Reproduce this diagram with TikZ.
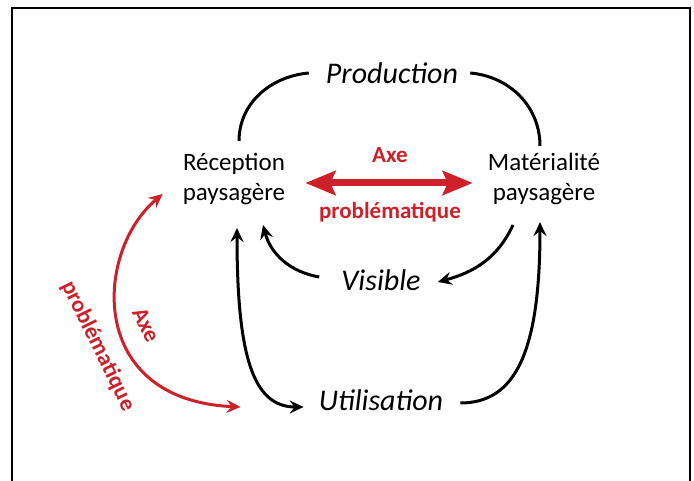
\documentclass[tikz,border=0pt]{standalone}
\usepackage{fontspec}
\setmainfont{Carlito}
\usetikzlibrary{positioning, calc, arrows.meta}
\definecolor{axered}{RGB}{206,32,41}

\begin{document}
\begin{tikzpicture}[x=1pt, y=1pt,
    pole/.style={inner sep=0pt, align=center, font=\fontsize{25}{30}\selectfont},
    act/.style={inner sep=0pt, font=\fontsize{30}{36}\selectfont\itshape},
    axe/.style={inner sep=0pt, text=axered, font=\fontsize{23}{28}\selectfont\bfseries},
    line/.style={line width=3pt},
    link/.style={line, -{Stealth[length=14pt,width=13pt,inset=5pt]}},
    twolink/.style={line, {Stealth[length=14pt,width=13pt,inset=5pt]}-{Stealth[length=14pt,width=13pt,inset=5pt]}},
    axearc/.style={twolink, draw=axered},
    axebar/.style={draw=axered, line width=7pt, {Stealth[length=30pt,width=24pt,inset=5pt]}-{Stealth[length=30pt,width=24pt,inset=5pt]}}]
    \useasboundingbox (0,0) rectangle (694,-481);
    % frame, open at the bottom
    \draw[line width=2.5pt] (12,-481) -- (12,-8) -- (690,-8) -- (690,-481);

    \node[act] (prod) at (392,-73) {Production};
    \node[pole] (rec) at (234,-179) {Réception\\paysagère};
    \node[pole] (mat) at (544,-179) {Matérialité\\paysagère};
    \node[act] (vis) at (381,-280) {Visible};
    \node[act] (util) at (381,-400) {Utilisation};

    % labels of the two axes
    \node[axe] (axetop) at (390,-155) {Axe};
    \node[axe] (probtop) at (390,-212) {problématique};
    \node[axe, rotate=-64] (axeleft) at (146,-325) {Axe};
    \node[axe, rotate=-64] (probleft) at (98,-346) {problématique};
    \coordinate (axeend) at ([xshift=-78pt,yshift=-7pt]util.west);

    \draw[line] ([xshift=5pt,yshift=12pt]rec.north) to[out=90, in=185] ([xshift=-17pt]prod.west);
    \draw[line] ([xshift=12pt]prod.east) to[out=-5, in=90] ([xshift=-4pt,yshift=7pt]mat.north);
    \draw[link] ([xshift=-22pt,yshift=3pt]vis.west) to[out=170, in=-75] ([xshift=29pt,yshift=-20pt]rec.south);
    \draw[link] ([xshift=-31pt,yshift=-20pt]mat.south) to[out=-115, in=15] ([xshift=17pt,yshift=-2pt]vis.east);
    \draw[twolink] ([xshift=3pt,yshift=-23pt]rec.south) .. controls +(0,-130) and +(-50,0) .. ([xshift=-15pt,yshift=-7pt]util.west);
    \draw[link] ([xshift=17pt,yshift=-3pt]util.east) .. controls +(55,0) and +(0,-130) .. ([xshift=-4pt,yshift=-17pt]mat.south);

    \draw[axebar] ([xshift=20pt,yshift=-4pt]rec.east) -- ([xshift=-15pt,yshift=-4pt]mat.west);
    \draw[axearc] ([xshift=-20pt,yshift=-15pt]rec.west) .. controls +(-68,-57) and +(-155,7) .. (axeend);
\end{tikzpicture}
\end{document}
